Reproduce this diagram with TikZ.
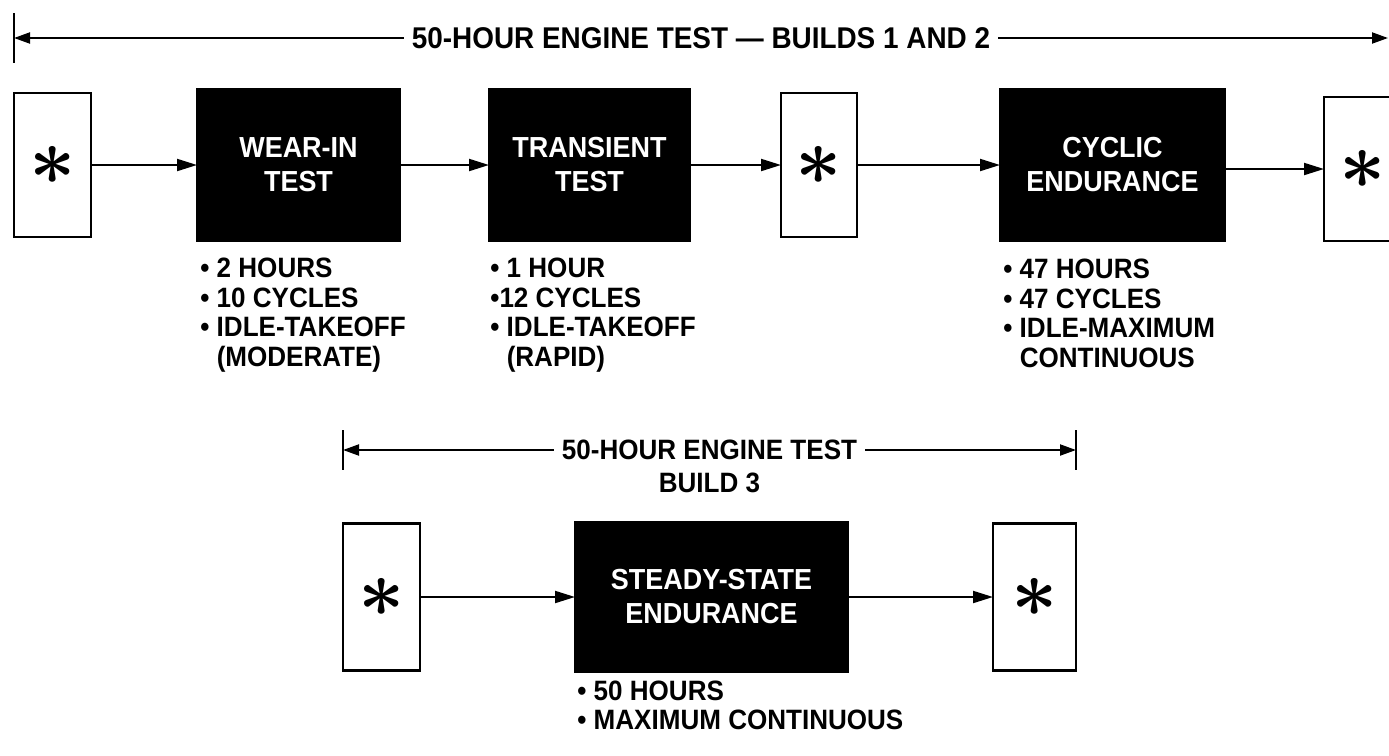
\documentclass[tikz,border=0pt]{standalone}
\usepackage{fontspec}
\setmainfont{Liberation Sans}[FakeStretch=0.93]
\usepackage{graphicx}
\usetikzlibrary{arrows.meta, positioning, calc}
\newcommand{\starmark}{\scalebox{2.8}{\boldmath$\ast$}}
\tikzset{
  font=\bfseries\fontsize{14}{14.75}\selectfont,
  baseblock/.style={
    rectangle, line width=1.3pt, inner sep=0pt, outer sep=0pt, align=center
  },
  starblock/.style={baseblock, draw=black, fill=white, minimum width=38.5pt, minimum height=72pt},
  darkblock/.style={baseblock, draw=black, fill=black, text=white,
    minimum height=76pt, font=\bfseries\fontsize{14.5}{17}\selectfont},
  notelist/.style={align=left, anchor=north west, inner sep=0pt},
  flowline/.style={
    draw=black, line width=1pt, -{Triangle[length=10pt, width=6pt]}
  },
  dimline/.style={
    draw=black, line width=1pt, {Triangle[length=8pt, width=5.5pt]}-{Triangle[length=8pt, width=5.5pt]}
  },
  dimtick/.style={draw=black, line width=1.3pt},
  dimlabel/.style={fill=white, inner xsep=4pt, inner ysep=1pt}
}
\newcommand{\skipbullet}{\phantom{\textbullet\ }}

\begin{document}
\begin{tikzpicture}[x=0.5pt, y=-0.5pt]
  \clip (0,0) rectangle (1389,756);

  % Builds 1 and 2: top row
  \node[starblock] (s1) at (52.5,165) {\starmark};
  \node[darkblock, minimum width=101.5pt, right=53pt of s1] (wear) {WEAR-IN\\TEST};
  \node[darkblock, minimum width=100.5pt, right=44.5pt of wear] (trans) {TRANSIENT\\TEST};
  \node[starblock, minimum width=38pt, right=45.5pt of trans] (s2) {\starmark};
  \node[darkblock, minimum width=112.5pt, right=71.5pt of s2] (cyc) {CYCLIC\\ENDURANCE};
  \node[starblock, right=49.5pt of cyc, yshift=-2pt] (s3) {\starmark};

  % Notes under the top row
  \node[notelist] (wearnote) at ($(wear.south west)+(3,17)$) {%
    \textbullet\ 2 HOURS\\
    \textbullet\ 10 CYCLES\\
    \textbullet\ IDLE-TAKEOFF\\
    \skipbullet(MODERATE)};
  \node[notelist] (transnote) at ($(trans.south west)+(1,17)$) {%
    \textbullet\ 1 HOUR\\
    \textbullet12 CYCLES\\
    \textbullet\ IDLE-TAKEOFF\\
    \skipbullet(RAPID)};
  \node[notelist] (cycnote) at ($(cyc.south west)+(3,18)$) {%
    \textbullet\ 47 HOURS\\
    \textbullet\ 47 CYCLES\\
    \textbullet\ IDLE-MAXIMUM\\
    \skipbullet CONTINUOUS};

  % Flows of the top row
  \draw[flowline] (s1) -- (wear);
  \draw[flowline] (wear) -- (trans);
  \draw[flowline] (trans) -- (s2);
  \draw[flowline] (s2) -- (cyc);
  \draw[flowline] (cyc.east |- s3) -- (s3);

  % Span of builds 1 and 2
  \coordinate (topL) at (14,38);
  \coordinate (topR) at (1388,38);
  \draw[dimtick] ([yshift=12.5pt]topL) -- ([yshift=-12.5pt]topL);
  \draw[dimline] (topL) -- node[dimlabel, font=\bfseries\fontsize{15}{15}\selectfont] (toplbl) {50-HOUR ENGINE TEST — BUILDS 1 AND 2} (topR);

  % Build 3: bottom row
  \node[starblock, minimum height=73.5pt] (s4) at (381.5,597) {\starmark};
  \node[darkblock, minimum width=136.5pt, minimum height=74.5pt, right=77.5pt of s4] (steady) {STEADY-STATE\\ENDURANCE};
  \node[starblock, minimum width=41.5pt, minimum height=73.5pt, right=72.5pt of steady] (s5) {\starmark};
  \node[notelist] (steadynote) at ($(steady.south west)+(2,9)$) {%
    \textbullet\ 50 HOURS\\
    \textbullet\ MAXIMUM CONTINUOUS};

  \draw[flowline] (s4) -- (steady);
  \draw[flowline] (steady) -- (s5);

  % Span of build 3
  \coordinate (botL) at (s4.west |- 0,450);
  \coordinate (botR) at (s5.east |- 0,450);
  \draw[dimtick] ([yshift=10pt]botL) -- ([yshift=-10pt]botL);
  \draw[dimtick] ([yshift=10pt]botR) -- ([yshift=-10pt]botR);
  \draw[dimline] (botL) -- node[dimlabel] (botlbl) {50-HOUR ENGINE TEST} (botR);
  \node[inner sep=0pt, below=5pt of botlbl] (b3lbl) {BUILD 3};
\end{tikzpicture}
\end{document}
